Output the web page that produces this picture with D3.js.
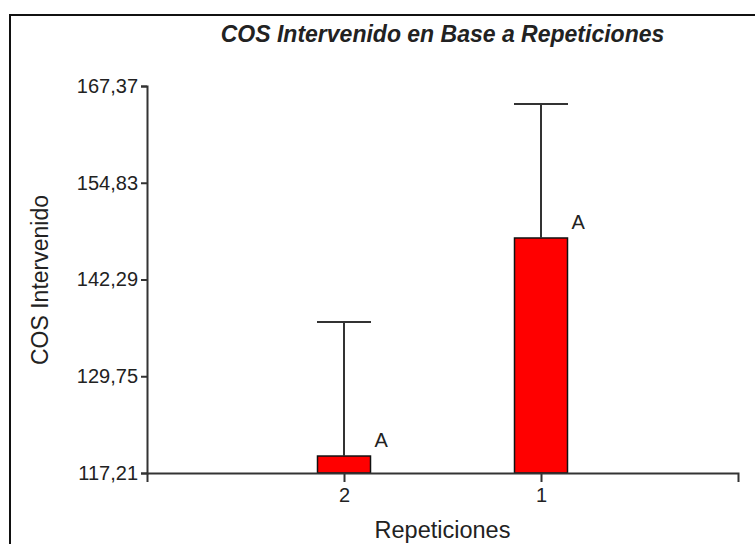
<!DOCTYPE html>
<html>
<head>
<meta charset="utf-8">
<script src="https://cdn.jsdelivr.net/npm/d3@7"></script>
<style>
  body { margin: 0; background: #fff; }
  svg { display: block; }
  text { font-family: "Liberation Sans", Arial, sans-serif; fill: #222; }
</style>
</head>
<body>
<div id="chart"></div>
<script>
// data
const categories = ['2', '1'];
const means = [119.41, 147.67];
const errors = [17.37, 17.37];
const letters = ['A', 'A'];
const yTicks = [117.21, 129.75, 142.29, 154.83, 167.37];

const W = 755, H = 544;
let plotLeft = 147, plotRight = 738, plotTop = 86, plotBottom = 473,
barw = 53;

let svg = d3.select('#chart').append('svg').attr('width', W).attr('height', H);

// outer frame (runs off the right and bottom edge)
svg.append('rect')
  .attr('x', 10).attr('y', 15)
  .attr('width', W + 20).attr('height', H + 20)
  .style('fill', 'none').style('stroke', '#111').style('stroke-width', 2);

let x = d3.scalePoint().domain(categories).range([plotLeft, plotRight]).padding(1),
y = d3.scaleLinear().domain([yTicks[0], yTicks[yTicks.length - 1]]).range([plotBottom, plotTop]);

let fmt = d => d3.format('.2f')(d).replace('.', ',');

let data = categories.map((c, i) => ({cat: c, mean: means[i], err: errors[i], letter: letters[i]}));

// bars
svg.append('g').selectAll('rect')
  .data(data).enter().append('rect')
  .attr('x', d => x(d.cat) - barw / 2)
  .attr('y', d => y(d.mean))
  .attr('width', barw)
  .attr('height', d => y(yTicks[0]) - y(d.mean))
  .style('fill', '#ff0000')
  .style('stroke', '#111')
  .style('stroke-width', 1.5);

// one sided error bars
let eb = svg.append('g').style('stroke', '#333').style('stroke-width', 2);
eb.selectAll('.whisker').data(data).enter().append('line')
  .attr('x1', d => x(d.cat)).attr('x2', d => x(d.cat))
  .attr('y1', d => y(d.mean)).attr('y2', d => y(d.mean + d.err));
eb.selectAll('.cap').data(data).enter().append('line')
  .attr('x1', d => x(d.cat) - 27).attr('x2', d => x(d.cat) + 27)
  .attr('y1', d => y(d.mean + d.err)).attr('y2', d => y(d.mean + d.err));

// letters next to the bars
svg.append('g').selectAll('text')
  .data(data).enter().append('text')
  .attr('x', d => x(d.cat) + barw / 2 + 4)
  .attr('y', d => y(d.mean) - 9)
  .style('font-size', '20px')
  .text(d => d.letter);

// axes
let yAxis = svg.append('g')
  .attr('transform', `translate(${plotLeft},0)`)
  .call(d3.axisLeft(y).tickValues(yTicks).tickFormat(fmt).tickSize(6).tickSizeOuter(6).tickPadding(3));

let xAxis = svg.append('g')
  .attr('transform', `translate(0,${plotBottom})`)
  .call(d3.axisBottom(x).tickSize(9).tickSizeOuter(9).tickPadding(6));

[yAxis, xAxis].forEach(a => {
  a.selectAll('path, line').style('stroke', '#333').style('stroke-width', 2);
  a.selectAll('text').style('font-size', '20px').style('fill', '#222').style('font-family', '"Liberation Sans", Arial, sans-serif');
});

// titles
svg.append('text')
  .attr('x', (plotLeft + plotRight) / 2).attr('y', 42)
  .attr('text-anchor', 'middle')
  .style('font-size', '23px').style('font-weight', 'bold').style('font-style', 'italic')
  .text('COS Intervenido en Base a Repeticiones');

svg.append('text')
  .attr('x', (plotLeft + plotRight) / 2).attr('y', 538)
  .attr('text-anchor', 'middle')
  .style('font-size', '23.5px')
  .text('Repeticiones');

svg.append('text')
  .attr('transform', 'translate(48,280) rotate(-90)')
  .attr('text-anchor', 'middle')
  .style('font-size', '23px')
  .text('COS Intervenido');
</script>
</body>
</html>
